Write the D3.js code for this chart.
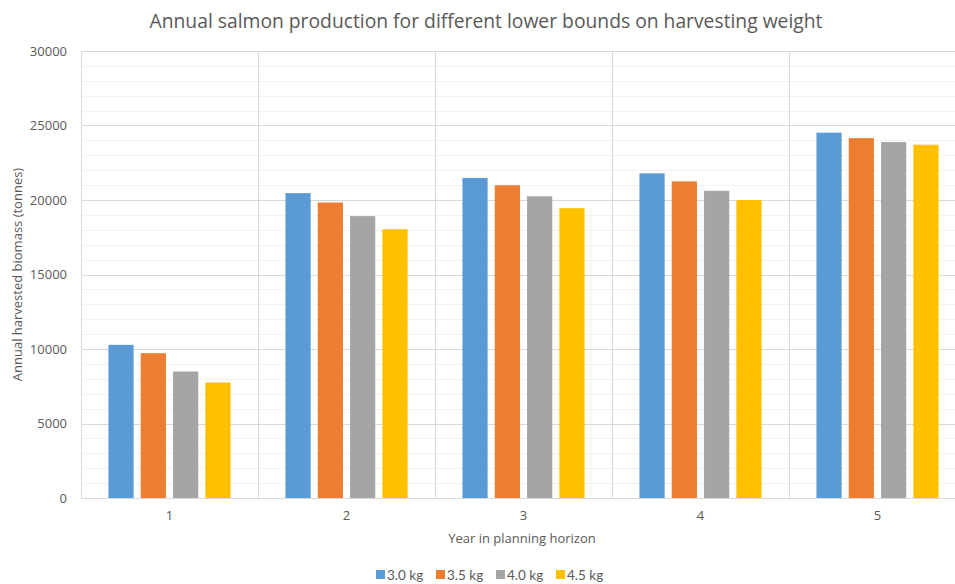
<!DOCTYPE html>
<html>
<head>
<meta charset="utf-8">
<script src="https://cdn.jsdelivr.net/npm/d3@7"></script>
<style>
  html, body { margin: 0; padding: 0; background: #fff; }
  svg { display: block; font-family: "Open Sans", "Noto Sans", sans-serif; }
</style>
</head>
<body>
<svg id="chart" width="955" height="584"></svg>
<script>
// Harvested biomass (tonnes) per planning year, for each lower bound on harvesting weight
const years = ["1", "2", "3", "4", "5"];
const seriesNames = ["3.0 kg", "3.5 kg", "4.0 kg", "4.5 kg"];
const w30 = [10280, 20460, 21480, 21790, 24520];
const w35 = [9720, 19830, 20990, 21250, 24150];
const w40 = [8490, 18920, 20250, 20620, 23890];
const w45 = [7750, 18040, 19450, 20000, 23710];
const yTicks = [0, 5000, 10000, 15000, 20000, 25000, 30000];
const colors = ["#5b9bd5", "#ed7d31", "#a5a5a5", "#ffc000"];

(function () {
  const seriesValues = [w30, w35, w40, w45];
  const rows = years.map((yr, i) => ({
    year: yr,
    values: seriesNames.map((s, j) => ({ series: s, value: seriesValues[j][i], color: colors[j] }))
  }));

  const svg = d3.select("#chart");
  const plotLeft = 81, plotRight = 966, plotTop = 51, plotBottom = 498;

  const x = d3.scaleBand().domain(years).range([plotLeft, plotRight]).padding(0);
  const xInner = d3.scaleBand().domain(seriesNames)
    .range([x.bandwidth() * 0.155, x.bandwidth() * 0.845])
    .paddingInner(0.22).paddingOuter(0);
  const y = d3.scaleLinear().domain([0, 30000]).range([plotBottom, plotTop]);

  // Minor gridlines every 1000
  const minor = d3.range(0, 30001, 1000).filter(v => v % 5000 !== 0);
  svg.append("g").selectAll("line").data(minor).join("line")
    .attr("x1", plotLeft).attr("x2", plotRight)
    .attr("y1", d => Math.round(y(d)) + 0.5).attr("y2", d => Math.round(y(d)) + 0.5)
    .attr("stroke", "#f2f2f2").attr("stroke-width", 1);

  // Major gridlines
  svg.append("g").selectAll("line").data(yTicks).join("line")
    .attr("x1", plotLeft).attr("x2", plotRight)
    .attr("y1", d => Math.round(y(d)) + 0.5).attr("y2", d => Math.round(y(d)) + 0.5)
    .attr("stroke", "#d9d9d9").attr("stroke-width", 1);

  // Vertical category separators
  const seps = years.map(d => x(d)).concat([plotRight]);
  svg.append("g").selectAll("line").data(seps).join("line")
    .attr("x1", d => Math.round(d) + 0.5).attr("x2", d => Math.round(d) + 0.5)
    .attr("y1", plotTop).attr("y2", plotBottom)
    .attr("stroke", "#d9d9d9").attr("stroke-width", 1);

  // Bars
  const groups = svg.append("g").selectAll("g").data(rows).join("g")
    .attr("transform", d => `translate(${x(d.year)},0)`);
  groups.selectAll("rect").data(d => d.values).join("rect")
    .attr("x", d => xInner(d.series))
    .attr("width", xInner.bandwidth())
    .attr("y", d => y(d.value))
    .attr("height", d => y(0) - y(d.value))
    .attr("fill", d => d.color);

  // Y axis labels
  const yAxis = d3.axisLeft(y).tickValues(yTicks).tickSize(0).tickPadding(0).tickFormat(d3.format("d"));
  const gy = svg.append("g").attr("transform", `translate(${plotLeft - 14},0)`).call(yAxis);
  gy.select(".domain").remove();
  gy.selectAll("text").attr("fill", "#595959").attr("font-size", 13).attr("font-family", "Open Sans");

  // X axis labels
  const xAxis = d3.axisBottom(x).tickSize(0).tickPadding(0);
  const gx = svg.append("g").attr("transform", `translate(0,${plotBottom + 13})`).call(xAxis);
  gx.select(".domain").remove();
  gx.selectAll("text").attr("fill", "#595959").attr("font-size", 13).attr("font-family", "Open Sans");

  // Title
  svg.append("text").attr("x", 486).attr("y", 28).attr("text-anchor", "middle")
    .attr("fill", "#595959").attr("font-size", 19.3)
    .text("Annual salmon production for different lower bounds on harvesting weight");

  // Axis titles
  svg.append("text").attr("x", 522).attr("y", 543).attr("text-anchor", "middle")
    .attr("fill", "#595959").attr("font-size", 13)
    .text("Year in planning horizon");
  svg.append("text").attr("transform", `translate(22,${(plotTop + plotBottom) / 2}) rotate(-90)`)
    .attr("text-anchor", "middle").attr("fill", "#595959").attr("font-size", 13)
    .text("Annual harvested biomass (tonnes)");

  // Legend
  const legendX = [376, 436, 496, 556];
  const lg = svg.append("g").selectAll("g").data(seriesNames).join("g")
    .attr("transform", (d, i) => `translate(${legendX[i]},570)`);
  lg.append("rect").attr("width", 9).attr("height", 9).attr("fill", (d, i) => colors[i]);
  lg.append("text").attr("x", 11).attr("y", 9.5).attr("fill", "#595959")
    .attr("font-family", "Lato").attr("font-size", 13.5).text(d => d);
})();
</script>
</body>
</html>
